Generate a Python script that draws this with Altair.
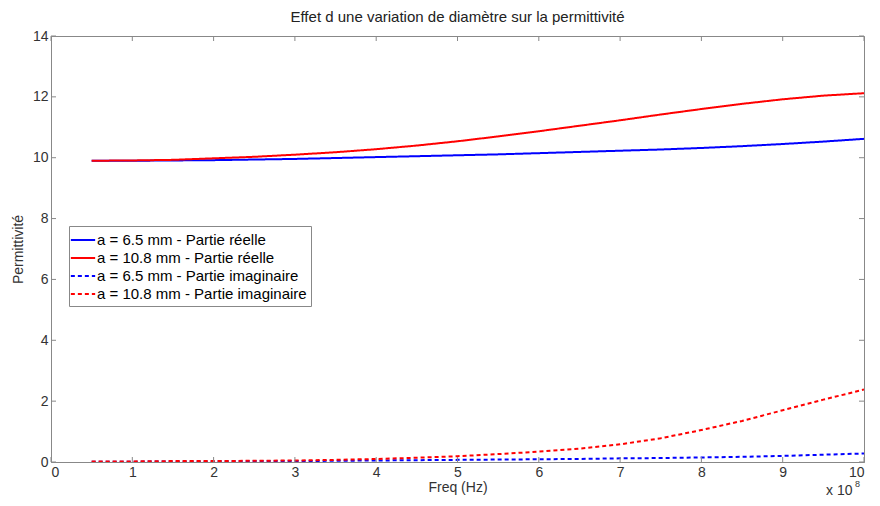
import altair as alt
import pandas as pd

freq = [0.5, 1, 1.5, 2, 2.5, 3, 3.5, 4, 4.5, 5, 5.5, 6, 6.5, 7, 7.5, 8, 8.5, 9, 9.5, 10]
real_65 = [9.9, 9.9, 9.91, 9.92, 9.94, 9.96, 9.99, 10.02, 10.05, 10.08, 10.11, 10.15, 10.19, 10.23, 10.27, 10.32, 10.38, 10.45, 10.53, 10.62]
real_108 = [9.9, 9.91, 9.93, 9.98, 10.03, 10.1, 10.18, 10.28, 10.4, 10.54, 10.7, 10.87, 11.05, 11.23, 11.42, 11.6, 11.77, 11.92, 12.04, 12.12]
imag_65 = [0.01, 0.01, 0.02, 0.02, 0.03, 0.03, 0.04, 0.05, 0.06, 0.07, 0.08, 0.09, 0.1, 0.12, 0.13, 0.15, 0.17, 0.2, 0.24, 0.28]
imag_108 = [0.02, 0.02, 0.03, 0.03, 0.04, 0.05, 0.07, 0.1, 0.14, 0.19, 0.26, 0.34, 0.44, 0.58, 0.78, 1.05, 1.35, 1.7, 2.05, 2.38]

series_names = [
    "a = 6.5 mm - Partie réelle",
    "a = 10.8 mm - Partie réelle",
    "a = 6.5 mm - Partie imaginaire",
    "a = 10.8 mm - Partie imaginaire",
]
x_ticks = list(range(0, 11))
y_ticks = list(range(0, 15, 2))

rows = []
for name, vals in zip(series_names, [real_65, real_108, imag_65, imag_108]):
    for f, v in zip(freq, vals):
        rows.append({"freq": f, "val": v, "series": name})
df = pd.DataFrame(rows)

W, H = 813, 426
font = "Liberation Sans"
txt = "#333333"
tick_color = "#888888"

xscale = alt.Scale(domain=[0, 10], nice=False)
yscale = alt.Scale(domain=[0, 14], nice=False)

lines = alt.Chart(df).mark_line(strokeWidth=2, clip=True).encode(
    x=alt.X("freq:Q", scale=xscale, axis=alt.Axis(
        values=x_ticks, format="d", title="Freq (Hz)", ticks=False, grid=False,
        labelPadding=3, titlePadding=1, domainColor=tick_color,
        labelFont=font, labelFontSize=14, labelColor=txt,
        titleFont=font, titleFontSize=14, titleFontWeight="normal", titleColor=txt)),
    y=alt.Y("val:Q", scale=yscale, axis=alt.Axis(
        values=y_ticks, format="d", title="Permittivité", ticks=False, grid=False,
        labelPadding=3, titlePadding=7, domainColor=tick_color,
        labelFont=font, labelFontSize=14, labelColor=txt,
        titleFont=font, titleFontSize=14, titleFontWeight="normal", titleColor=txt)),
    color=alt.Color("series:N", scale=alt.Scale(domain=series_names,
                                                range=["#0000ff", "#ff0000", "#0000ff", "#ff0000"]),
                    legend=alt.Legend(title=None, orient="none", legendX=18, legendY=190,
                                      symbolType="M-1.35,0H1.35", symbolSize=324, symbolStrokeWidth=2,
                                      fillColor="white", strokeColor="#888888", padding=4,
                                      labelFontSize=15, labelFont=font, labelColor="#000000",
                                      labelLimit=400, rowPadding=0, labelOffset=4)),
    strokeDash=alt.StrokeDash("series:N", scale=alt.Scale(domain=series_names,
                                                          range=[[1, 0], [1, 0], [4, 3], [4, 3]]),
                              legend=alt.Legend(title=None)),
)

xt = pd.DataFrame({"t": x_ticks})
yt = pd.DataFrame({"t": y_ticks})
xb = alt.Chart(xt).mark_rule(color=tick_color, strokeWidth=1).encode(
    x=alt.X("t:Q", scale=xscale), y=alt.value(H), y2=alt.value(H - 5))
xtop = alt.Chart(xt).mark_rule(color=tick_color, strokeWidth=1).encode(
    x=alt.X("t:Q", scale=xscale), y=alt.value(0), y2=alt.value(5))
yl = alt.Chart(yt).mark_rule(color=tick_color, strokeWidth=1).encode(
    y=alt.Y("t:Q", scale=yscale), x=alt.value(0), x2=alt.value(5))
yr = alt.Chart(yt).mark_rule(color=tick_color, strokeWidth=1).encode(
    y=alt.Y("t:Q", scale=yscale), x=alt.value(W), x2=alt.value(W - 5))

exp_base = alt.Chart(pd.DataFrame({"s": ["x 10"]})).mark_text(
    font=font, fontSize=14, color=txt, align="left", baseline="alphabetic").encode(
    text="s:N", x=alt.value(W - 38), y=alt.value(H + 33))
exp_sup = alt.Chart(pd.DataFrame({"s": ["8"]})).mark_text(
    font=font, fontSize=9, color=txt, align="left", baseline="alphabetic").encode(
    text="s:N", x=alt.value(W - 9), y=alt.value(H + 25))

chart = alt.layer(lines, xb, xtop, yl, yr, exp_base, exp_sup).properties(
    width=W, height=H,
    title=alt.TitleParams("Effet d une variation de diamètre sur la permittivité",
                          font=font, fontSize=15, fontWeight="normal", color="#222222", offset=4),
    autosize=alt.AutoSizeParams(type="none"),
    padding={"left": 43, "top": 28, "right": 8, "bottom": 36},
    background="white",
).configure_view(stroke=tick_color, strokeWidth=1)

chart.save("out.html", embed_options={"renderer": "svg", "actions": False})
